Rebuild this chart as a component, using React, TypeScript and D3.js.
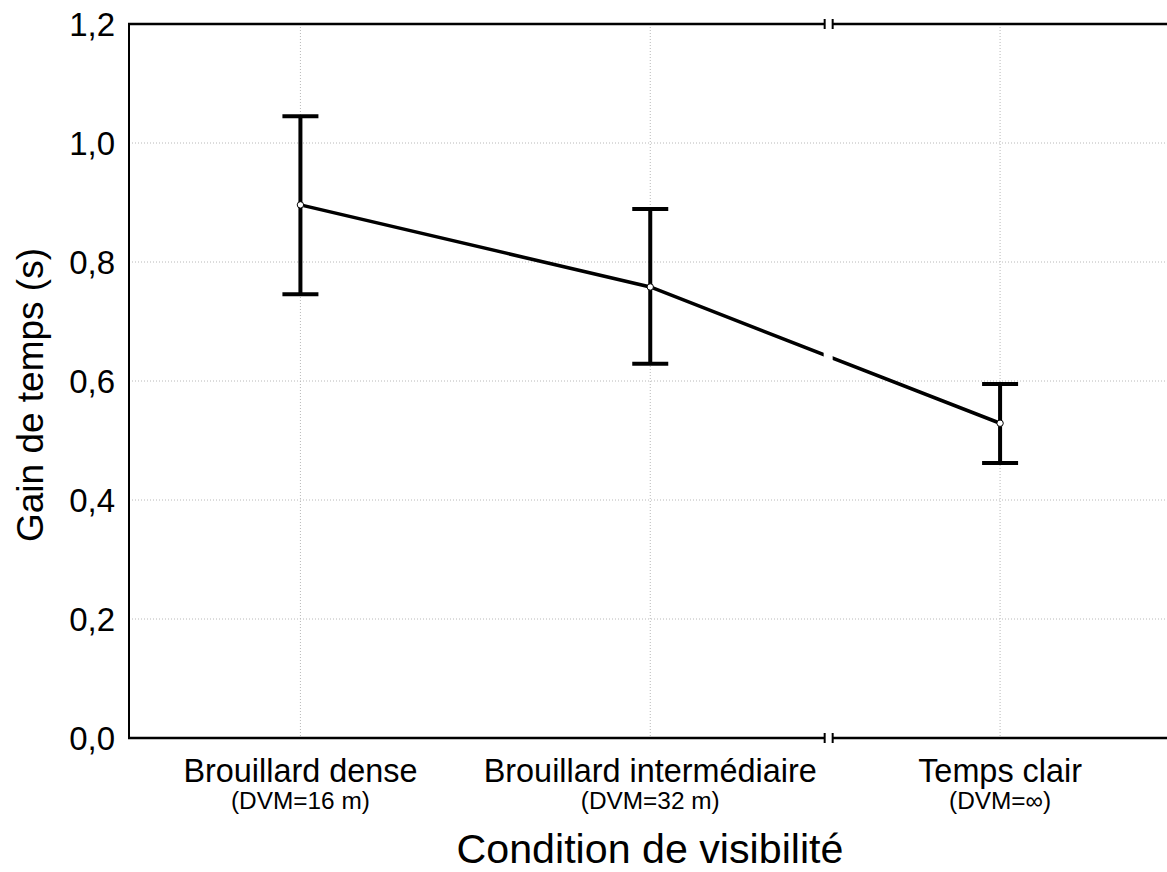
import React from "react";
import * as d3 from "d3";

const categories = ["Brouillard dense", "Brouillard intermédiaire", "Temps clair"];
const subLabels = ["(DVM=16 m)", "(DVM=32 m)", "(DVM=∞)"];
const means = [0.896, 0.758, 0.529];
const upper = [1.045, 0.889, 0.595];
const lower = [0.746, 0.629, 0.462];
const yTicks = [0, 0.2, 0.4, 0.6, 0.8, 1.0, 1.2];
const breakAt = 1.51;

const W = 1167;
const H = 872;
const left = 129;
const top = 24;
const bottom = 738;
const FONT = "Liberation Sans, Arial, sans-serif";

export default function App() {
  const x = d3.scaleLinear().domain([-0.49, 2.5]).range([left, 1175]);
  const y = d3.scaleLinear().domain([0, 1.2]).range([bottom, top]);
  const fmt = (v: number) => d3.format(".1f")(v).replace(".", ",");
  const line = d3
    .line<number>()
    .x((_, i) => x(i))
    .y((d) => y(d));
  const bx = x(breakAt);
  const gap = 4;
  const capHalf = 18;

  return (
    <svg
      width={W}
      height={H}
      style={{ position: "absolute", left: 0, top: 0, background: "#fff", display: "block" }}
      fontFamily={FONT}
    >
      <defs>
        <clipPath id="brk">
          <rect x={0} y={0} width={bx - gap - 1} height={H} />
          <rect x={bx + gap} y={0} width={W} height={H} />
        </clipPath>
      </defs>
      <rect x={0} y={0} width={W} height={H} fill="#fff" />
      {/* grid */}
      {yTicks
        .filter((t) => t > 0 && t < 1.2)
        .map((t) => (
          <line
            key={"gy" + t}
            x1={left}
            x2={W}
            y1={y(t)}
            y2={y(t)}
            stroke="#b8b8b8"
            strokeWidth={1}
            strokeDasharray="1,2"
          />
        ))}
      {categories.map((c, i) => (
        <line
          key={"gx" + c}
          x1={x(i)}
          x2={x(i)}
          y1={top}
          y2={bottom}
          stroke="#b8b8b8"
          strokeWidth={1}
          strokeDasharray="1,2"
        />
      ))}
      {/* data line */}
      <path d={line(means) || ""} fill="none" stroke="#000" strokeWidth={3.5} clipPath="url(#brk)" />
      {/* error bars */}
      {categories.map((c, i) => (
        <g key={"eb" + c}>
          <line x1={x(i)} x2={x(i)} y1={y(upper[i])} y2={y(lower[i])} stroke="#000" strokeWidth={4} />
          <line x1={x(i) - capHalf} x2={x(i) + capHalf} y1={y(upper[i])} y2={y(upper[i])} stroke="#000" strokeWidth={4} />
          <line x1={x(i) - capHalf} x2={x(i) + capHalf} y1={y(lower[i])} y2={y(lower[i])} stroke="#000" strokeWidth={4} />
          <circle cx={x(i)} cy={y(means[i])} r={3.2} fill="#fff" stroke="#000" strokeWidth={1} />
        </g>
      ))}
      {/* axes */}
      <line x1={left} x2={left} y1={top - 1} y2={bottom + 1} stroke="#000" strokeWidth={2} />
      {[top, bottom].map((yy) => (
        <g key={"ax" + yy}>
          <line x1={left - 1} x2={bx - gap} y1={yy} y2={yy} stroke="#000" strokeWidth={2.5} />
          <line x1={bx + gap} x2={W} y1={yy} y2={yy} stroke="#000" strokeWidth={2.5} />
          <line x1={bx - gap} x2={bx - gap} y1={yy - 5} y2={yy + 5} stroke="#000" strokeWidth={2} />
          <line x1={bx + gap} x2={bx + gap} y1={yy - 5} y2={yy + 5} stroke="#000" strokeWidth={2} />
        </g>
      ))}
      {/* y tick labels */}
      {yTicks.map((t) => (
        <text key={"yt" + t} x={left - 14} y={y(t)} dy="0.36em" textAnchor="end" fontSize={33} fill="#000">
          {fmt(t)}
        </text>
      ))}
      {/* x tick labels */}
      {categories.map((c, i) => (
        <g key={"xt" + c}>
          <text x={x(i)} y={782} textAnchor="middle" fontSize={32.4} fill="#000">
            {c}
          </text>
          <text x={x(i)} y={809} textAnchor="middle" fontSize={24.4} fill="#000">
            {subLabels[i]}
          </text>
        </g>
      ))}
      {/* axis titles */}
      <text x={650} y={863} textAnchor="middle" fontSize={41.2} fill="#000">
        Condition de visibilité
      </text>
      <text
        transform={`translate(43, 395) rotate(-90)`}
        textAnchor="middle"
        fontSize={37}
        fill="#000"
      >
        Gain de temps (s)
      </text>
    </svg>
  );
}
